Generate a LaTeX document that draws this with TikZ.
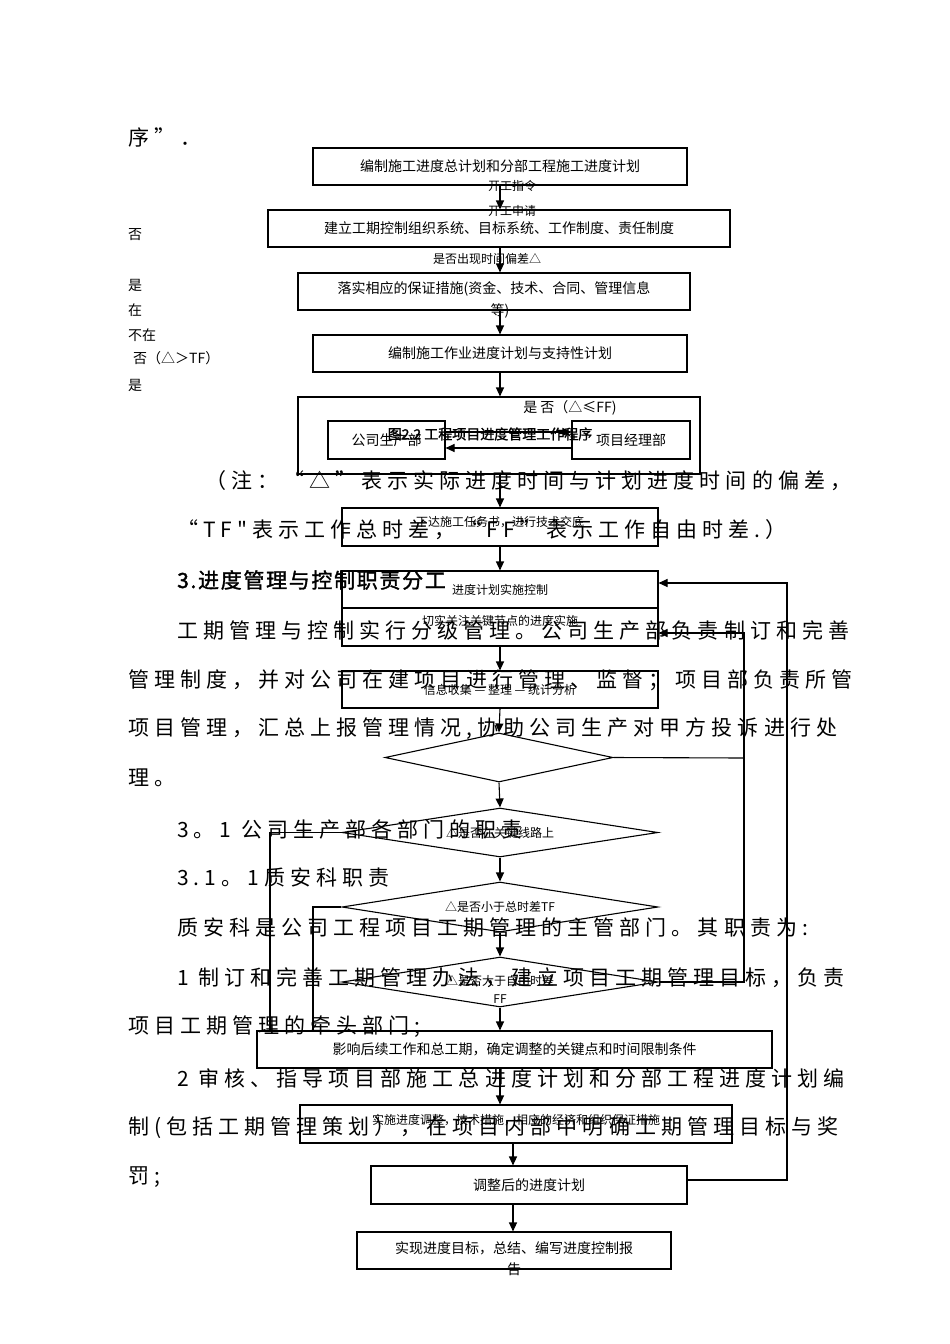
\documentclass[tikz,border=0pt]{standalone}
\usepackage{fontspec}
\setmainfont{Noto Sans CJK SC}
\newfontfamily\cjkb[FakeBold=1.5]{Noto Sans CJK SC}
\newfontfamily\body[LetterSpace=24]{Noto Sans CJK SC}
\newfontfamily\bodyb[LetterSpace=8,FakeBold=1.5]{Noto Sans CJK SC}
\usetikzlibrary{shapes.geometric,arrows.meta}
\tikzset{
  bx/.style={draw, line width=1.1pt, inner sep=0pt, font=\fontsize{14}{16}\selectfont},
  sbx/.style={bx, font=\fontsize{12}{14}\selectfont},
  dia/.style={draw, diamond, line width=1.1pt, inner sep=0pt, font=\fontsize{12}{14}\selectfont},
  arr/.style={line width=1.1pt, -{Triangle[length=9pt,width=8pt]}},
  ln/.style={line width=1.1pt},
  bt/.style={anchor=west, inner sep=0pt, font=\body\fontsize{21}{24}\selectfont},
  lb/.style={anchor=west, inner sep=0pt, font=\fontsize{14}{16}\selectfont},
  sl/.style={inner sep=0pt, font=\fontsize{12}{14}\selectfont}
}
\begin{document}
\begin{tikzpicture}[x=1pt,y=-1pt]
\useasboundingbox (0,0) rectangle (950,1344);
\fill[white] (0,0) rectangle (950,1344);
% ---------- body text ----------
\node[bt] (t0) at (128,137) {序”．};
\node[bt] (t1) at (205,481) {（注：“△”表示实际进度时间与计划进度时间的偏差，};
\node[bt] (t2) at (177,530) {“TF"表示工作总时差，“FF”表示工作自由时差.）};
\node[bt, font=\bodyb\fontsize{21}{24}\selectfont] (t3) at (177,580) {3.进度管理与控制职责分工};
\node[bt] (t4) at (177,630) {工期管理与控制实行分级管理。公司生产部负责制订和完善};
\node[bt] (t5) at (128,680) {管理制度，并对公司在建项目进行管理、监督；项目部负责所管};
\node[bt] (t6) at (128,729) {项目管理，汇总上报管理情况,协助公司生产对甲方投诉进行处};
\node[bt] (t7) at (128,778) {理。};
\node[bt] (t8) at (177,829) {3。1 公司生产部各部门的职责};
\node[bt] (t9) at (177,878) {3.1。1质安科职责};
\node[bt] (t10) at (177,928) {质安科是公司工程项目工期管理的主管部门。其职责为:};
\node[bt] (t11) at (177,978) {1 制订和完善工期管理办法，建立项目工期管理目标，负责};
\node[bt] (t12) at (128,1027) {项目工期管理的牵头部门;};
\node[bt] (t13) at (177,1078) {2 审核、指导项目部施工总进度计划和分部工程进度计划编};
\node[bt] (t14) at (128,1128) {制(包括工期管理策划），在项目内部中明确工期管理目标与奖};
\node[bt] (t15) at (128,1177) {罚;};
% ---------- left labels ----------
\node[lb] (l1) at (128,235) {否};
\node[lb] (l2) at (128,285) {是};
\node[lb] (l3) at (128,310) {在};
\node[lb] (l4) at (128,335) {不在};
\node[lb] (l5) at (133,358) {否（△＞TF）};
\node[lb] (l6) at (128,385) {是};
% ---------- flowchart upper ----------
\node[bx, minimum width=374, minimum height=37] (b1) at (500,166.5) {编制施工进度总计划和分部工程施工进度计划};
\node[bx, minimum width=462, minimum height=37] (b2) at (499,228.5) {建立工期控制组织系统、目标系统、工作制度、责任制度};
\node[bx, minimum width=392, minimum height=37] (b3) at (494,291.5) {};
\node[lb, anchor=center] (b3t) at (494,289) {落实相应的保证措施(资金、技术、合同、管理信息};
\node[lb, anchor=center] (b3u) at (500,311) {等)};
\node[bx, minimum width=374, minimum height=37] (b4) at (500,353.5) {编制施工作业进度计划与支持性计划};
\node[bx, minimum width=402, minimum height=77] (big) at (499,435.5) {};
\node[lb, anchor=center] (bigt) at (570,408) {是\ 否（△≤FF)};
\node[bx, minimum width=117, minimum height=38] (gs) at (386.5,440) {公司生产部};
\node[bx, minimum width=118, minimum height=38] (pm) at (631,440) {项目经理部};
\draw[arr] (gs.east|-0,432) -- (pm.west|-0,432);
\draw[arr] (pm.west|-0,448) -- (gs.east|-0,448);
\node[inner sep=0pt, font=\cjkb\fontsize{14}{16}\selectfont] (cap) at (490,434) {图2.2\ 工程项目进度管理工作程序};
\node[sl] (k1) at (512,186) {开工指令};
\node[sl] (k2) at (512,211) {开工申请};
\node[sl] (k3) at (487,259) {是否出现时间偏差△};
\draw[arr] (b1.south-|500,0) -- (b2.north-|500,0);
\draw[arr] (b2.south-|500,0) -- (b3.north-|500,0);
\draw[arr] (b3.south-|500,0) -- (b4.north);
\draw[arr] (b4.south) -- (big.north-|500,0);
% ---------- flowchart lower ----------
\node[sbx, minimum width=316, minimum height=38] (b5) at (500,527) {};
\node[sl] (b5t) at (500,522) {下达施工任务书，进行技术交底};
\node[sbx, minimum width=316, minimum height=37] (b6) at (500,589.5) {进度计划实施控制};
\node[sbx, minimum width=316, minimum height=38] (b7) at (500,627) {};
\node[sl] (b7t) at (500,621) {切实关注关键节点的进度实施};
\node[sbx, minimum width=316, minimum height=37] (b8) at (500,689.5) {信息收集\ —\ 整理\ —\ 统计分析};
\draw[arr] (big.south-|500,0) -- (b5.north);
\draw[arr] (b5.south) -- (b6.north);
\draw[arr] (b7.south) -- (b8.north);
\node[dia, aspect=4.65, minimum width=228, minimum height=49] (d1) at (499,757.5) {};
\node[dia, aspect=6.45, minimum width=316, minimum height=49] (d2) at (500,832.5) {△是否在关键线路上};
\node[dia, aspect=6.3, minimum width=316, minimum height=50] (d3) at (500,907) {△是否小于总时差TF};
\node[dia, aspect=6.3, minimum width=316, minimum height=50] (d4) at (500,982) {};
\node[sl] (d4t) at (500,981) {△是否大于自由时差};
\node[sl] (d4u) at (500,999) {FF};
\draw[arr] (b8.south) -- (d1.north);
\draw[arr] (d1.south) -- (d2.north);
\draw[arr] (d2.south) -- (d3.north);
\draw[arr] (d3.south) -- (d4.north);
\node[bx, minimum width=515, minimum height=37] (b9) at (514.5,1049.5) {影响后续工作和总工期，确定调整的关键点和时间限制条件};
\draw[arr] (d4.south) -- (b9.north-|500,0);
\node[sbx, minimum width=432, minimum height=38] (b10) at (516,1124) {};
\node[sl] (b10t) at (516,1120) {实施进度调整，技术措施，相应的经济和组织保证措施};
\draw[arr] (b9.south-|500,0) -- (b10.north-|500,0);
\node[bx, minimum width=316, minimum height=38] (b11) at (529,1185) {调整后的进度计划};
\node[bx, minimum width=314, minimum height=37] (b12) at (514,1250.5) {};
\node[lb, anchor=center] (b12t) at (514,1248) {实现进度目标，总结、编写进度控制报};
\node[lb, anchor=center] (b12u) at (514,1269) {告};
\draw[arr] (b10.south-|513,0) -- (b11.north-|513,0);
\draw[arr] (b11.south-|513,0) -- (b12.north-|513,0);
% feedback loops
\coordinate (r1) at (744,758);
\coordinate (r2) at (744,982);
\coordinate (r3) at (744,633);
\coordinate (o1) at (787,1180);
\coordinate (o2) at (787,583);
\draw[ln] (d1.east) -- (r1);
\draw[arr] (d4.east) -- (r2) -- (r3) -- (b7.east|-r3);
\draw[arr] (b11.east|-o1) -- (o1) -- (o2) -- (b6.east|-o2);
\coordinate (q1) at (270,832.5);
\coordinate (q2) at (313,907);
\draw[ln] (d2.west) -- (q1) -- (q1|-b9.north);
\draw[ln] (d3.west) -- (q2) -- (q2|-b9.north);
\end{tikzpicture}
\end{document}
